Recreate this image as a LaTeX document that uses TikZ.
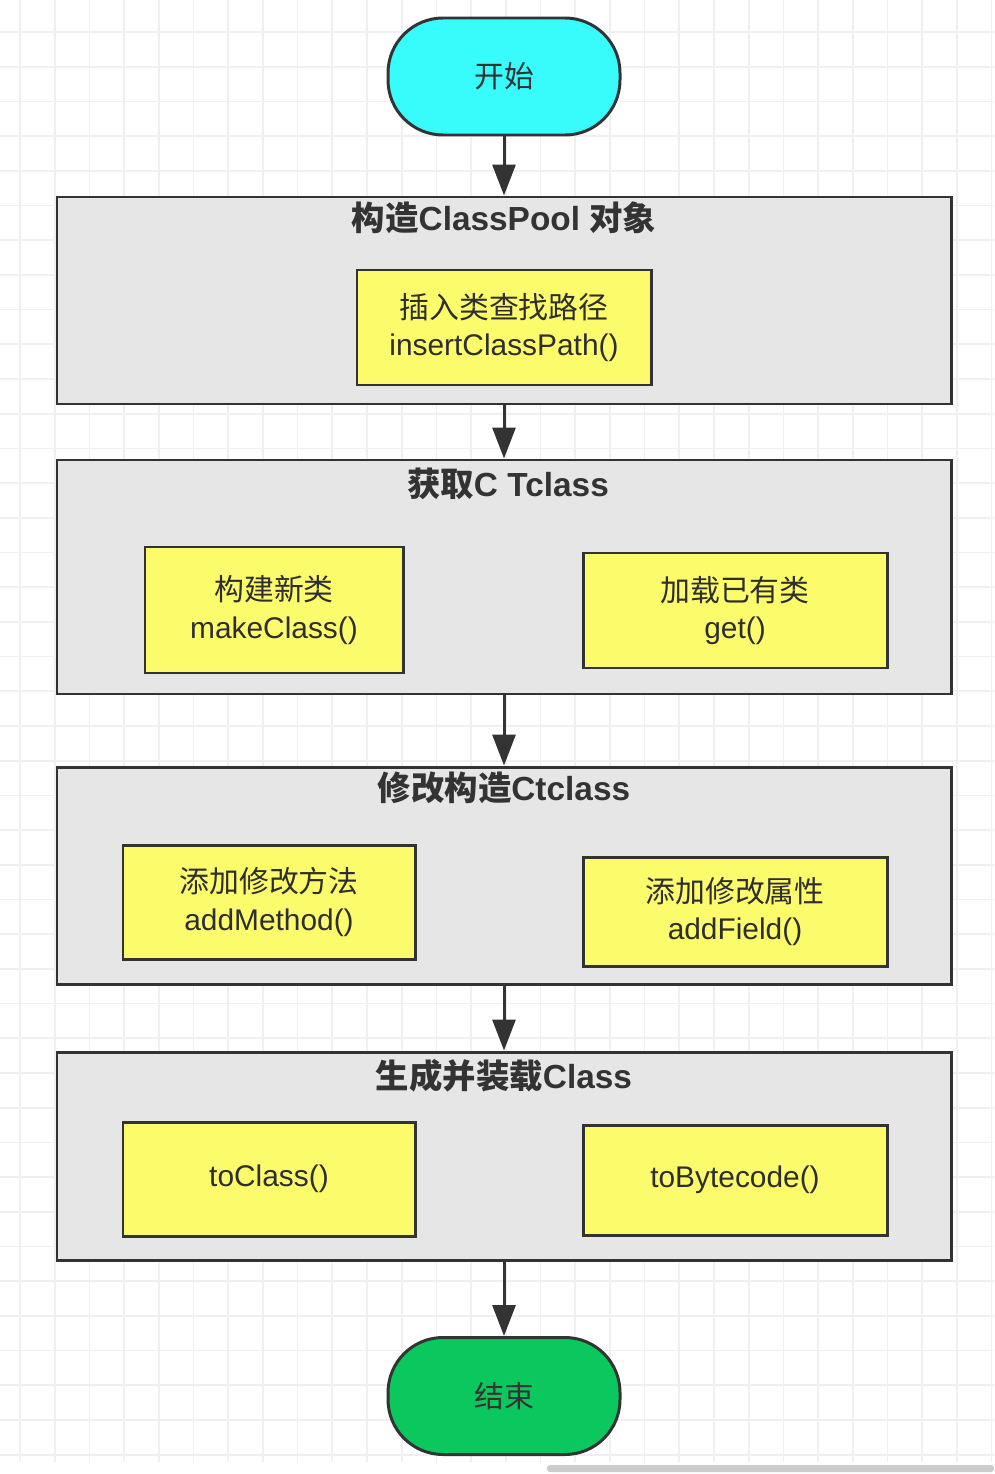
\documentclass[tikz,border=0pt]{standalone}
\usepackage{fontspec}
\setmainfont{Liberation Sans}
\newfontfamily\cjk{Noto Sans CJK SC}
\usetikzlibrary{arrows.meta}

\definecolor{startcyan}{HTML}{38FCFC}
\definecolor{endgreen}{HTML}{0BC85E}
\definecolor{groupgray}{HTML}{E6E6E6}
\definecolor{stepyellow}{HTML}{FBFB6C}
\definecolor{edgegray}{HTML}{333333}
\definecolor{gridgray}{HTML}{F0F0F0}

\tikzset{
  terminal/.style={draw=edgegray, line width=1.7pt, rounded corners=1.1cm,
    minimum width=4.64cm, minimum height=2.34cm, text=edgegray,
    font=\cjk\fontsize{17}{21}\selectfont},
  group/.style={draw=edgegray, line width=1.7pt, fill=groupgray,
    minimum width=17.88cm},
  grouptitle/.style={text=edgegray, font=\bfseries\fontsize{19}{23}\selectfont},
  stepbox/.style={draw=edgegray, line width=1.7pt, fill=stepyellow,
    align=center, text=edgegray!90!black, font=\fontsize{17}{21.5}\selectfont},
  flow/.style={draw=edgegray, line width=1.7pt,
    -{Triangle[width=0.46cm,length=0.62cm]}}
}

\begin{document}
\begin{tikzpicture}
\useasboundingbox (0,0) rectangle (19.88,-29.48);
\fill[white] (0,0) rectangle (19.88,-29.48);
% background grid
\foreach \i in {0,...,28} \draw[gridgray, line width=1pt] ({0.4+0.694*\i},0) -- ({0.4+0.694*\i},-29.24);
\foreach \j in {0,...,41} \draw[gridgray, line width=1pt] (0,{-0.64-0.694*\j}) -- (19.88,{-0.64-0.694*\j});
\fill[gray!40, rounded corners=0.06cm] (10.94,-29.3) rectangle (19.88,-29.44);

\node[terminal, fill=startcyan] (start) at (10.08,-1.53) {开始};

% ClassPool
\node[group, minimum height=4.14cm] (pool) at (10.08,-6.01) {};
\node[grouptitle] (pooltitle) at (10.08,-4.36) {{\cjk 构造}ClassPool {\cjk 对象}};
\node[stepbox, minimum width=5.88cm, minimum height=2.3cm] (path) at (10.08,-6.55)
  {{\cjk 插入类查找路径}\\insertClassPath()};

% CTclass
\node[group, minimum height=4.68cm] (getcls) at (10.08,-11.54) {};
\node[grouptitle] (getclstitle) at (10.16,-9.68) {{\cjk 获取}C Tclass};
\node[stepbox, minimum width=5.16cm, minimum height=2.52cm] (make) at (5.48,-12.2)
  {{\cjk 构建新类}\\makeClass()};
\node[stepbox, minimum width=6.08cm, minimum height=2.3cm] (load) at (14.7,-12.21)
  {{\cjk 加载已有类}\\get()};

% modify
\node[group, minimum height=4.34cm] (modify) at (10.08,-17.51) {};
\node[grouptitle] (modifytitle) at (10.08,-15.76) {{\cjk 修改构造}Ctclass};
\node[stepbox, minimum width=5.84cm, minimum height=2.28cm] (method) at (5.38,-18.04)
  {{\cjk 添加修改方法}\\addMethod()};
\node[stepbox, minimum width=6.08cm, minimum height=2.18cm] (field) at (14.7,-18.23)
  {{\cjk 添加修改属性}\\addField()};

% generate
\node[group, minimum height=4.16cm] (gen) at (10.08,-23.12) {};
\node[grouptitle] (gentitle) at (10.08,-21.52) {{\cjk 生成并装载}Class};
\node[stepbox, minimum width=5.84cm, minimum height=2.28cm] (tocls) at (5.38,-23.58) {toClass()};
\node[stepbox, minimum width=6.08cm, minimum height=2.2cm] (tobyte) at (14.7,-23.6) {toBytecode()};

\node[terminal, fill=endgreen] (finish) at (10.08,-27.92) {结束};

\draw[flow] (start) -- (pool);
\draw[flow] (pool) -- (getcls);
\draw[flow] (getcls) -- (modify);
\draw[flow] (modify) -- (gen);
\draw[flow] (gen) -- (finish);
\end{tikzpicture}
\end{document}
